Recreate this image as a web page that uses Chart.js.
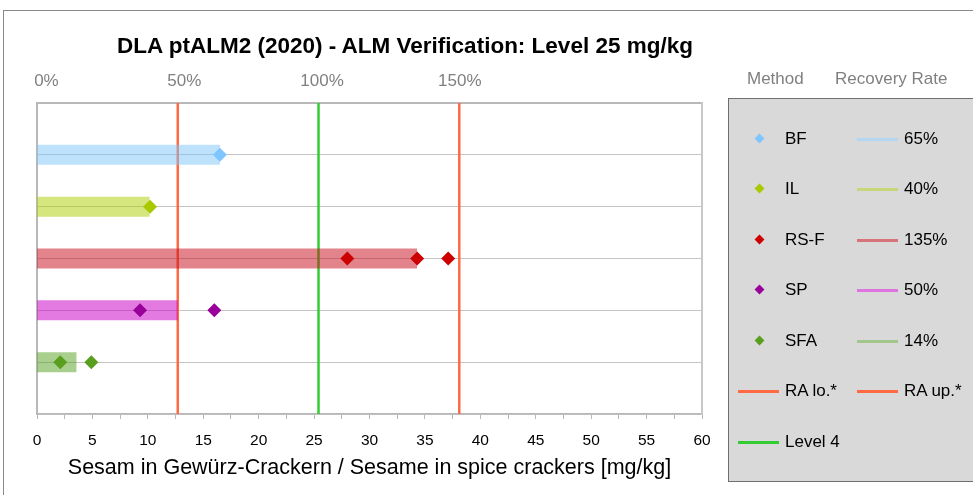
<!DOCTYPE html>
<html>
<head>
<meta charset="utf-8">
<script src="https://cdn.jsdelivr.net/npm/chart.js@4.4.1/dist/chart.umd.min.js"></script>
<style>
  body { margin: 0; background: #fff; font-family: "Liberation Sans", Arial, sans-serif; }
  #wrap { position: relative; width: 973px; height: 495px; overflow: hidden; }
  #frame { position: absolute; left: 3px; top: 10px; width: 1100px; height: 600px;
           border-left: 1px solid #8a8a8a; border-top: 1px solid #8a8a8a; }
  #chart { position: absolute; left: 0; top: 0; }
  #title { position: absolute; left: 117px; top: 32px; font-weight: bold; font-size: 22.5px;
           line-height: 28px; white-space: nowrap; color: #000; }
  .hdr { position: absolute; top: 69px; font-size: 17px; color: #808080; white-space: nowrap; }
  #legend { position: absolute; left: 728px; top: 98px; width: 270px; height: 382px;
            background: #d9d9d9; border: 1px solid #6e6e6e; }
  .lg-txt { position: absolute; font-size: 17px; color: #000; white-space: nowrap; line-height: 20px; }
  .lg-dia { position: absolute; width: 7px; height: 7px; transform: rotate(45deg); }
  .lg-line { position: absolute; width: 41px; height: 3px; }
</style>
</head>
<body>
<div id="wrap">
  <div id="frame"></div>
  <canvas id="chart" width="973" height="495"></canvas>
  <div id="title">DLA ptALM2 (2020) - ALM Verification: Level 25 mg/kg</div>
  <div class="hdr" style="left:747px">Method</div>
  <div class="hdr" style="left:835px">Recovery Rate</div>
  <div id="legend"></div>
</div>
<script>
// assigned value of the level (mg/kg), 100 % line
const LEVEL = 25.4;

const methods = ['BF', 'IL', 'RS-F', 'SP', 'SFA'];
const rowPos = [5, 4, 3, 2, 1];
const recoveryRates = [65, 40, 135, 50, 14];

// single results per method [mg/kg]
const resultsBF = [16.5];
const resultsIL = [10.2];
const resultsRSF = [28.0, 34.3, 37.1];
const resultsSP = [9.3, 16.0];
const resultsSFA = [2.1, 4.9];

const raLower = 50;   // %
const raUpper = 150;  // %

const xTickLabels = [0, 5, 10, 15, 20, 25, 30, 35, 40, 45, 50, 55, 60];
const topTickLabels = [0, 50, 100, 150];

const markerColors = ['#7fc5ff', '#a9c800', '#cc0000', '#990099', '#5a9e1e'];
const barColors = ['rgba(128,198,250,0.5)', 'rgba(172,206,0,0.5)', 'rgba(200,10,25,0.5)',
                   'rgba(200,0,200,0.52)', 'rgba(84,160,30,0.5)'];
const legendLineColors = ['#b3d7f3', '#c5d779', '#d9737b', '#df73df', '#a3c68b'];
const raColor = '#ff6a45';
const levelColor = '#33cc33';
const axisColor = '#b8b8b8';

const allResults = [resultsBF, resultsIL, resultsRSF, resultsSP, resultsSFA];

const datasets = [];

// diamonds (drawn on top)
allResults.forEach((vals, i) => {
  datasets.push({
    type: 'scatter',
    data: vals.map(v => ({ x: v, y: rowPos[i] })),
    pointStyle: 'rectRot',
    pointRadius: 7,
    backgroundColor: markerColors[i],
    borderColor: markerColors[i],
    borderWidth: 0,
    xAxisID: 'x', yAxisID: 'y'
  });
});

// recovery rate bars as thick lines
recoveryRates.forEach((r, i) => {
  datasets.push({
    type: 'line',
    data: [{ x: 0, y: rowPos[i] }, { x: r / 100 * LEVEL, y: rowPos[i] }],
    borderColor: barColors[i],
    borderWidth: 20,
    borderCapStyle: 'butt',
    pointRadius: 0,
    xAxisID: 'x', yAxisID: 'y'
  });
});

// RA lower / upper and level lines
[[raLower, raColor], [raUpper, raColor], [100, levelColor]].forEach(([pct, col]) => {
  datasets.push({
    type: 'line',
    data: [{ x: pct / 100 * LEVEL, y: 0 }, { x: pct / 100 * LEVEL, y: 6 }],
    borderColor: col,
    borderWidth: 2.5,
    pointRadius: 0,
    xAxisID: 'x', yAxisID: 'y'
  });
});

new Chart(document.getElementById('chart'), {
  type: 'scatter',
  data: { datasets },
  options: {
    responsive: false,
    animation: false,
    events: [],
    layout: { padding: { left: 37, right: 271, top: 0, bottom: 0 } },
    plugins: { legend: { display: false }, tooltip: { enabled: false } },
    scales: {
      x: {
        type: 'linear', position: 'bottom', min: 0, max: 60,
        afterFit: s => { s.height = 81; },
        ticks: {
          stepSize: 2.5, autoSkip: false, maxRotation: 0, padding: 12,
          color: '#000', font: { size: 15.5, family: 'Liberation Sans' },
          callback: v => xTickLabels.includes(v) ? String(v) : ''
        },
        grid: { drawOnChartArea: false, drawTicks: true, tickLength: 5, color: axisColor },
        border: { color: axisColor, width: 1.5 },
        title: {
          display: true,
          text: 'Sesam in Gewürz-Crackern / Sesame in spice crackers [mg/kg]',
          color: '#000', font: { size: 21.5, family: 'Liberation Sans' },
          padding: { top: 0, bottom: 14 }
        }
      },
      x2: {
        type: 'linear', position: 'top', min: -3.43, max: 237.9,
        afterFit: s => { s.height = 103; },
        afterBuildTicks: s => { s.ticks = topTickLabels.map(v => ({ value: v })); },
        ticks: {
          padding: 11, color: '#808080', font: { size: 17, family: 'Liberation Sans' },
          callback: v => v + '%'
        },
        grid: { display: false, drawTicks: false },
        border: { color: axisColor, width: 2 }
      },
      y: {
        type: 'linear', min: 0, max: 6,
        afterFit: s => { s.width = 0; },
        ticks: { display: false, stepSize: 1 },
        grid: { color: '#c4c4c4', lineWidth: 1, drawTicks: false },
        border: { color: axisColor, width: 2 }
      },
      y2: {
        type: 'linear', position: 'right', min: 0, max: 6,
        afterFit: s => { s.width = 0; },
        ticks: { display: false },
        grid: { display: false, drawTicks: false },
        border: { color: '#c8c8c8', width: 2 }
      }
    }
  }
});

// legend box
const legend = document.getElementById('legend');
const L = 729, T = 99; // legend box origin (inner)
function add(cls, left, top, style) {
  const el = document.createElement('div');
  el.className = cls;
  el.style.left = (left - L) + 'px';
  el.style.top = (top - T) + 'px';
  Object.assign(el.style, style || {});
  legend.appendChild(el);
  return el;
}
const rowY = [139, 189, 240, 290, 341, 391, 442];
methods.forEach((m, i) => {
  const y = rowY[i];
  add('lg-dia', 756, y - 4, { background: markerColors[i] });
  add('lg-txt', 785, y - 10).textContent = m;
  add('lg-line', 857, y - 1.5, { background: legendLineColors[i] });
  add('lg-txt', 904, y - 10).textContent = recoveryRates[i] + '%';
});
add('lg-line', 738, rowY[5] - 1.5, { background: raColor });
add('lg-txt', 785, rowY[5] - 10).textContent = 'RA lo.*';
add('lg-line', 857, rowY[5] - 1.5, { background: raColor });
add('lg-txt', 904, rowY[5] - 10).textContent = 'RA up.*';
add('lg-line', 738, rowY[6] - 1.5, { background: levelColor });
add('lg-txt', 785, rowY[6] - 10).textContent = 'Level 4';
</script>
</body>
</html>
